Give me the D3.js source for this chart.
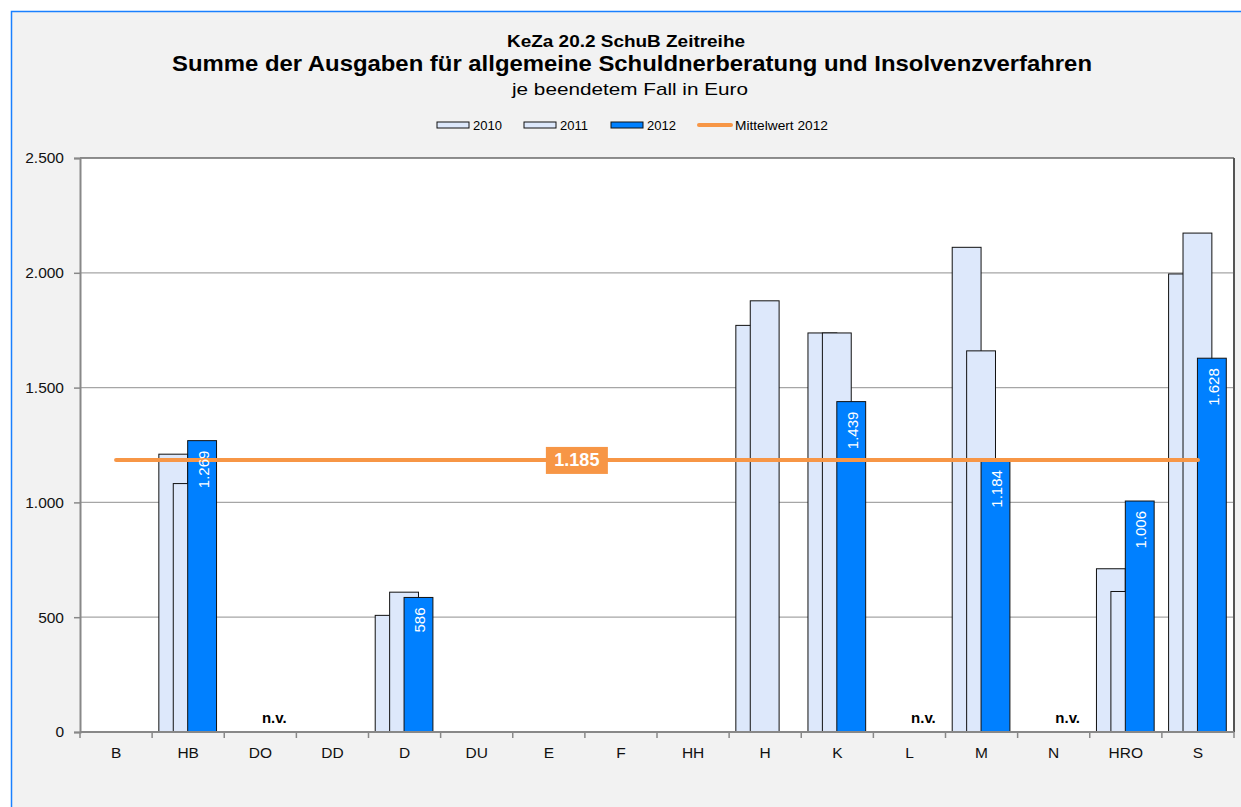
<!DOCTYPE html>
<html lang="de">
<head>
<meta charset="UTF-8">
<title>KeZa 20.2 SchuB Zeitreihe</title>
<style>
  html, body { margin: 0; padding: 0; background: #fff; }
  svg { display: block; font-family: "Liberation Sans", Arial, sans-serif; }
</style>
</head>
<body>
<svg width="1241" height="807"></svg>
<script src="https://cdn.jsdelivr.net/npm/d3@7"></script>
<script>
// Daten
const categories = ["B", "HB", "DO", "DD", "D", "DU", "E", "F", "HH", "H", "K", "L", "M", "N", "HRO", "S"];
const years = ["2010", "2011", "2012"];
const values2010 = [null, 1210, null, null, 508, null, null, null, null, 1771, 1738, null, 2111, null, 711, 1995];
const values2011 = [null, 1082, null, null, 609, null, null, null, null, 1878, 1738, null, 1660, null, 612, 2173];
const values2012 = [null, 1269, null, null, 586, null, null, null, null, null, 1439, null, 1184, null, 1006, 1628];
const notAvailable = ["DO", "L", "N"];
const mean2012 = 1185;
const yTicks = [0, 500, 1000, 1500, 2000, 2500];

const series = [values2010, values2011, values2012];
const fills = ["#dde8fb", "#dde8fb", "#0080ff"];

const de = d3.formatLocale({ decimal: ",", thousands: ".", grouping: [3], currency: ["", "€"] });
const fmt = de.format(",d");

const svg = d3.select("svg");

// Rahmen
svg.append("rect").attr("x", 11.5).attr("y", 11.5).attr("width", 1260).attr("height", 820)
  .attr("fill", "#f2f2f2").attr("stroke", "#1a80ff").attr("stroke-width", 1.5);

// Titel
svg.append("text").attr("x", 626).attr("y", 47).attr("text-anchor", "middle")
  .attr("font-size", 16).attr("font-weight", "bold")
  .attr("textLength", 238).attr("lengthAdjust", "spacingAndGlyphs")
  .text("KeZa 20.2 SchuB Zeitreihe");
svg.append("text").attr("x", 632).attr("y", 71).attr("text-anchor", "middle")
  .attr("font-size", 22).attr("font-weight", "bold")
  .attr("textLength", 920).attr("lengthAdjust", "spacingAndGlyphs")
  .text("Summe der Ausgaben für allgemeine Schuldnerberatung und Insolvenzverfahren");
svg.append("text").attr("x", 630).attr("y", 95).attr("text-anchor", "middle")
  .attr("font-size", 17)
  .attr("textLength", 236).attr("lengthAdjust", "spacingAndGlyphs")
  .text("je beendetem Fall in Euro");

// Skalen
const plot = { left: 80, right: 1234, top: 158, bottom: 732 };
const x = d3.scaleBand().domain(categories).range([plot.left, plot.right]).padding(0);
const y = d3.scaleLinear().domain([0, 2500]).range([plot.bottom, plot.top]);

const g = svg.append("g");

// Zeichenfläche
g.append("rect").attr("x", plot.left).attr("y", plot.top)
  .attr("width", plot.right - plot.left).attr("height", plot.bottom - plot.top)
  .attr("fill", "#fff");

// Gitternetz
g.selectAll(".grid").data(yTicks.slice(1, -1)).enter().append("line")
  .attr("x1", plot.left).attr("x2", plot.right)
  .attr("y1", d => y(d)).attr("y2", d => y(d))
  .attr("stroke", "#a6a6a6").attr("stroke-width", 1.2);

// Balken
const barW = x.bandwidth() * 0.4;
series.forEach((vals, si) => {
  g.selectAll(".bar" + si)
    .data(categories.map((c, i) => ({ c: c, v: vals[i] })).filter(d => d.v != null))
    .enter().append("rect")
    .attr("x", d => x(d.c) + x.bandwidth() / 2 - barW + si * barW / 2 - 0.5)
    .attr("y", d => y(d.v))
    .attr("width", barW)
    .attr("height", d => y(0) - y(d.v))
    .attr("fill", fills[si])
    .attr("stroke", "#111").attr("stroke-width", 1);
});

// Mittelwert-Linie
g.append("line")
  .attr("x1", x("B") + x.bandwidth() / 2).attr("x2", x("S") + x.bandwidth() / 2)
  .attr("y1", y(mean2012)).attr("y2", y(mean2012))
  .attr("stroke", "#f79646").attr("stroke-width", 4).attr("stroke-linecap", "round");

// Werte 2012
categories.forEach((c, i) => {
  const v = values2012[i];
  if (v == null) return;
  const cx = x(c) + x.bandwidth() / 2 + barW / 2 + 1;
  g.append("text")
    .attr("transform", `translate(${cx},${y(v) + 10}) rotate(-90)`)
    .attr("text-anchor", "end").attr("dy", "0.35em")
    .attr("font-size", 15).attr("fill", "#fff")
    .text(fmt(v));
});

// n.v.
g.selectAll(".nv").data(notAvailable).enter().append("text")
  .attr("x", d => x(d) + x.bandwidth() / 2 + 14)
  .attr("y", y(0) - 9)
  .attr("text-anchor", "middle").attr("font-size", 15).attr("font-weight", "bold")
  .text("n.v.");

// Mittelwert-Beschriftung
const lblX = x("F") - 8;
g.append("rect").attr("x", lblX - 31).attr("y", y(mean2012) - 13)
  .attr("width", 62).attr("height", 27).attr("fill", "#f79646");
g.append("text").attr("x", lblX).attr("y", y(mean2012)).attr("dy", "0.36em")
  .attr("text-anchor", "middle").attr("font-size", 18).attr("font-weight", "bold")
  .attr("fill", "#fff").text(fmt(mean2012));

// Rahmen oben/rechts
g.append("line").attr("x1", plot.left).attr("x2", plot.right).attr("y1", plot.top).attr("y2", plot.top)
  .attr("stroke", "#222").attr("stroke-width", 1.2);
g.append("line").attr("x1", plot.right).attr("x2", plot.right).attr("y1", plot.top).attr("y2", plot.bottom)
  .attr("stroke", "#555").attr("stroke-width", 2);

// Achsen
const axisY = g.append("g").attr("transform", `translate(${plot.left},0)`)
  .call(d3.axisLeft(y).tickValues(yTicks).tickFormat(fmt).tickSize(6).tickPadding(10));
const axisX = g.append("g").attr("transform", `translate(0,${plot.bottom})`)
  .call(d3.axisBottom(x).tickSize(0).tickPadding(15));

// Trennstriche zwischen Kategorien
axisX.selectAll(".sep").data(categories.concat(["_end"])).enter().append("line")
  .attr("x1", (d, i) => plot.left + i * x.step()).attr("x2", (d, i) => plot.left + i * x.step())
  .attr("y1", 0).attr("y2", 6).attr("stroke", "#888").attr("stroke-width", 1.5);

[axisY, axisX].forEach(a => {
  a.select(".domain").attr("stroke", "#888").attr("stroke-width", 2);
  a.selectAll(".tick line").attr("stroke", "#888").attr("stroke-width", 1.5);
  a.selectAll("text").attr("font-size", 15.5).attr("fill", "#111")
    .attr("font-family", "'Liberation Sans', Arial, sans-serif");
});
axisX.select(".domain").attr("d", `M${plot.left},0H${plot.right}`);

// Legende
const legend = svg.append("g");
const legItems = [
  { label: "2010", sx: 437, tx: 473, fill: fills[0] },
  { label: "2011", sx: 524, tx: 560, fill: fills[1] },
  { label: "2012", sx: 611, tx: 647, fill: fills[2] },
];
legItems.forEach(d => {
  legend.append("rect").attr("x", d.sx).attr("y", 122).attr("width", 32).attr("height", 6)
    .attr("fill", d.fill).attr("stroke", "#111").attr("stroke-width", 1);
  legend.append("text").attr("x", d.tx).attr("y", 130).attr("font-size", 13).text(d.label);
});
legend.append("line").attr("x1", 699).attr("x2", 731).attr("y1", 125).attr("y2", 125)
  .attr("stroke", "#f79646").attr("stroke-width", 4).attr("stroke-linecap", "round");
legend.append("text").attr("x", 735).attr("y", 130).attr("font-size", 13)
  .attr("textLength", 93).attr("lengthAdjust", "spacingAndGlyphs").text("Mittelwert 2012");
</script>
</body>
</html>
